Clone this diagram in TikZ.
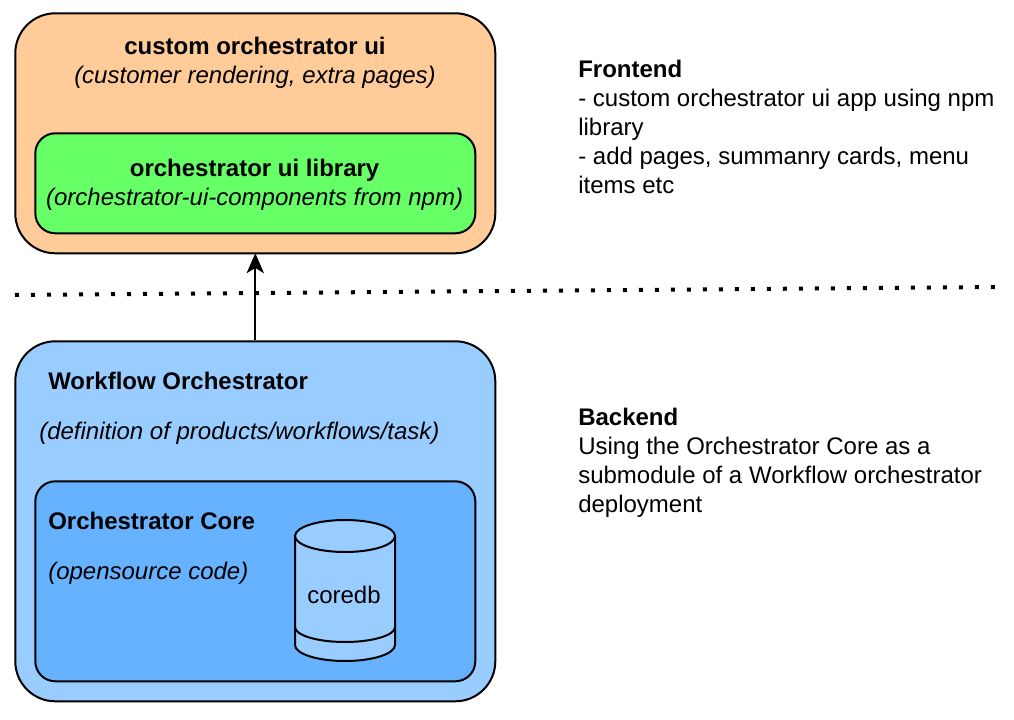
\documentclass[tikz,border=0pt]{standalone}
\usepackage{fontspec}
\setmainfont{Liberation Sans}
\usetikzlibrary{arrows.meta}
\definecolor{uiorange}{RGB}{255, 204, 153}
\definecolor{uigreen}{RGB}{102, 255, 102}
\definecolor{wfblue}{RGB}{153, 204, 255}
\definecolor{coreblue}{RGB}{102, 178, 255}
\tikzset{
  x=0.75pt,y=-0.75pt,
  outerbox/.style={draw,line width=1.5pt,rounded corners=30pt,anchor=north west},
  innerbox/.style={draw,line width=1.5pt,rounded corners=15pt,anchor=north west},
  boxtext/.style={font=\fontsize{18pt}{21.75pt}\selectfont,align=center,inner sep=0pt},
  sidetext/.style={font=\fontsize{18pt}{21.75pt}\selectfont,align=left,anchor=north west,inner sep=0pt}
}
\begin{document}
\begin{tikzpicture}
        \useasboundingbox (0,0) rectangle (1014,720);
        \node[outerbox,fill=uiorange,minimum width=360pt,minimum height=180pt] (customui) at (14.3,12.3) {};
        \node[innerbox,fill=uigreen,minimum width=330pt,minimum height=75pt] (uilib) at (34.3,132.3) {};
        \node[outerbox,fill=wfblue,minimum width=360pt,minimum height=270pt] (workflow) at (14.3,340.3) {};
        \node[innerbox,fill=coreblue,minimum width=330pt,minimum height=150pt] (core) at (34.3,480.3) {};

        \node[boxtext] (customtext) at (255,63) {\textbf{custom orchestrator ui}\\\textit{(customer rendering, extra pages)}};
        \node[boxtext] (libtext) at (254.6,185) {\textbf{orchestrator ui library}\\\textit{(orchestrator-ui-components from npm)}};
        \node[boxtext,anchor=west] (wftitle) at (48,381) {\textbf{Workflow Orchestrator}};
        \node[boxtext,anchor=west] (wfnote) at (39,433) {\textit{(definition of products/workflows/task)}};
        \node[boxtext,anchor=west] (coretitle) at (48,521) {\textbf{Orchestrator Core}};
        \node[boxtext,anchor=west] (corenote) at (48,573) {\textit{(opensource code)}};

        \draw[line width=1.5pt,fill=wfblue] (295,536) -- (295,645) arc[start angle=180,end angle=0,x radius=50,y radius=16] -- (395,536);
        \draw[line width=1.5pt,fill=wfblue] (345,536) ellipse[x radius=50,y radius=16];
        \draw[line width=1.5pt] (295,627) arc[start angle=180,end angle=0,x radius=50,y radius=15];
        \node[boxtext] (coredb) at (344,595) {coredb};

        \draw[line width=1.5pt,shorten >=-0.8pt,-{Stealth[length=15pt,width=13pt,inset=4pt]}] (workflow.north) -- (customui.south);
        \coordinate (dotleft) at (15,295);
        \coordinate (dotright) at (1000,287);
        \draw[line width=3pt,dash pattern=on 3pt off 9pt] (dotleft) -- (dotright);

        \node[sidetext] (frontend) at (578,59.5) {\textbf{Frontend}\\- custom orchestrator ui app using npm\\library\\- add pages, summanry cards, menu\\items etc};
        \node[sidetext] (backend) at (578,408) {\textbf{Backend}\\Using the Orchestrator Core as a\\submodule of a Workflow orchestrator\\deployment};
    \end{tikzpicture}
\end{document}
